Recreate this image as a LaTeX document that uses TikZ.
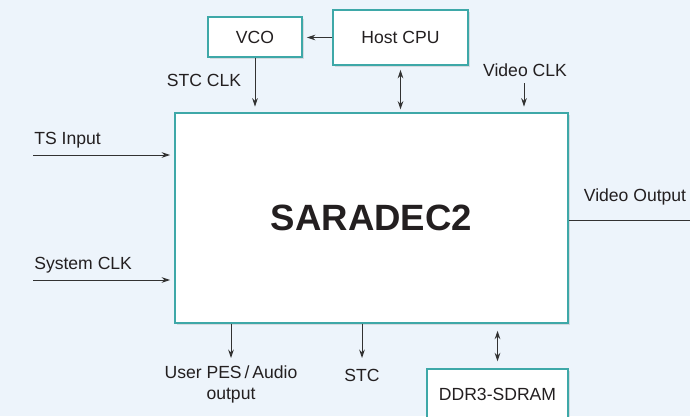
\documentclass[tikz,border=0pt]{standalone}
\usepackage{fontspec}
\setmainfont{Liberation Sans}
\usetikzlibrary{arrows.meta, shadows}
\definecolor{bgblue}{RGB}{237,244,251}
\definecolor{boxteal}{RGB}{62,168,168}
\definecolor{linegray}{RGB}{50,50,50}
\definecolor{txtdark}{RGB}{35,31,32}

\begin{document}
\begin{tikzpicture}[x=0.025cm, y=-0.025cm, font=\fontsize{12.5}{15}\selectfont, text=txtdark,
    box/.style={draw=boxteal, line width=1pt, fill=white, drop shadow={shadow xshift=1.5pt, shadow yshift=-1.5pt, opacity=0.22}},
    lbl/.style={inner sep=0pt},
    wire/.style={draw=linegray, line width=0.7pt},
    arr/.style={wire, -{Stealth[length=6pt, width=4pt]}},
    darr/.style={wire, {Stealth[length=6pt, width=4pt]}-{Stealth[length=6pt, width=4pt]}}]
    \clip (0,0) rectangle (690,416);
    \fill[bgblue] (0,0) rectangle (690,416);
    \node[box, minimum width=9.825cm, minimum height=5.25cm] (dec) at (371.5,218) {\fontsize{26}{30}\selectfont\bfseries SARADEC2};
    \node[box, minimum width=2.35cm, minimum height=1cm] (vco) at (255,37) {VCO};
    \node[box, minimum width=3.375cm, minimum height=1.375cm] (cpu) at (400.5,37.5) {Host CPU};
    \node[box, minimum width=3.525cm, minimum height=1.25cm] (ddr) at (497.5,394) {DDR3-SDRAM};
    \draw[arr, shorten >=4pt] (vco.south) -- (vco.south |- dec.north);
    \node[lbl] (stcclk) at (204,80) {STC CLK};
    \draw[arr, shorten >=3pt] (cpu.west) -- (cpu.west -| vco.east);
    \draw[darr, shorten <=3pt, shorten >=2pt] (cpu.south) -- (cpu.south |- dec.north);
    \coordinate (vclk) at (524,83);
    \node[lbl] (vclklbl) at (525,70) {Video CLK};
    \draw[arr, shorten >=4pt] (vclk) -- (vclk |- dec.north);
    \coordinate (tsin) at (33,155);
    \node[lbl, anchor=west] (tslbl) at (34,140) {TS Input};
    \draw[arr, shorten >=3pt] (tsin) -- (tsin -| dec.west);
    \coordinate (sysclk) at (33,280);
    \node[lbl, anchor=west] (syslbl) at (34,265) {System CLK};
    \draw[arr, shorten >=3pt] (sysclk) -- (sysclk -| dec.west);
    \coordinate (vout) at (690,220);
    \node[lbl] (voutlbl) at (635,197) {Video Output};
    \draw[wire] (dec.east |- vout) -- (vout);
    \coordinate (pes) at (231,358);
    \node[lbl, align=center] (peslbl) at (231,384) {User PES\,/\,Audio\\output};
    \draw[arr] (pes |- dec.south) -- (pes);
    \coordinate (stc) at (362,358);
    \node[lbl] (stclbl) at (362,375) {STC};
    \draw[arr] (stc |- dec.south) -- (stc);
    \draw[darr, shorten <=5pt, shorten >=5pt] (ddr.north) -- (ddr.north |- dec.south);
\end{tikzpicture}
\end{document}
